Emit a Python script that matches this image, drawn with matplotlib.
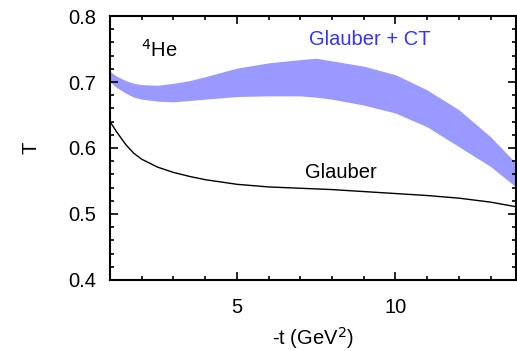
import numpy as np
import matplotlib.pyplot as plt
from matplotlib.ticker import MultipleLocator

plt.rcParams['font.family'] = ['Liberation Sans', 'DejaVu Sans']

# -t values (GeV^2)
t = [1.0, 1.2, 1.5, 1.75, 2.0, 2.5, 3.0, 3.5, 4.0, 5.0, 6.0, 7.0, 7.5, 8.0, 9.0, 10.0, 11.0, 12.0, 13.0, 13.8]
# Glauber + CT band
ct_upper = [0.716, 0.709, 0.702, 0.698, 0.696, 0.695, 0.698, 0.702, 0.708, 0.721, 0.729, 0.734, 0.736, 0.732, 0.724, 0.711, 0.688, 0.658, 0.617, 0.577]
ct_lower = [0.700, 0.692, 0.683, 0.677, 0.674, 0.671, 0.670, 0.672, 0.674, 0.678, 0.679, 0.679, 0.677, 0.674, 0.665, 0.653, 0.632, 0.602, 0.572, 0.541]
# Glauber
glauber = [0.640, 0.625, 0.605, 0.592, 0.583, 0.571, 0.563, 0.557, 0.552, 0.545, 0.541, 0.539, 0.538, 0.537, 0.534, 0.531, 0.528, 0.524, 0.518, 0.511]

fig = plt.figure(figsize=(5.17, 3.51), dpi=100)
ax = fig.add_axes([0.2128, 0.2023, 0.7852, 0.7521])

ax.fill_between(t, ct_lower, ct_upper, color='#9999ff', lw=0)
ax.plot(t, glauber, color='black', lw=1.0)

ax.set_xlim(1, 13.8)
ax.set_ylim(0.4, 0.8)
ax.xaxis.set_major_locator(MultipleLocator(5))
ax.xaxis.set_minor_locator(MultipleLocator(1))
ax.yaxis.set_major_locator(MultipleLocator(0.1))
ax.yaxis.set_minor_locator(MultipleLocator(0.02))
ax.tick_params(which='both', direction='in', top=True, right=True, labelsize=14.5, width=1.2)
ax.tick_params(which='major', length=6, pad=10)
ax.tick_params(axis='x', which='major', pad=13)
ax.tick_params(which='minor', length=3)
for s in ax.spines.values():
    s.set_linewidth(1.5)

ax.set_xlabel('-t (GeV$^2$)', fontsize=14.5, labelpad=6)
ax.set_ylabel('T', fontsize=14.5, labelpad=20)

ax.text(2.55, 0.749, '$^4$He', fontsize=14.5, ha='center', va='center')
ax.text(9.18, 0.764, 'Glauber + CT', fontsize=14.5, color='#3333ff', ha='center', va='center')
ax.text(8.27, 0.563, 'Glauber', fontsize=14.5, ha='center', va='center')

fig.savefig('out.png', dpi=100)
